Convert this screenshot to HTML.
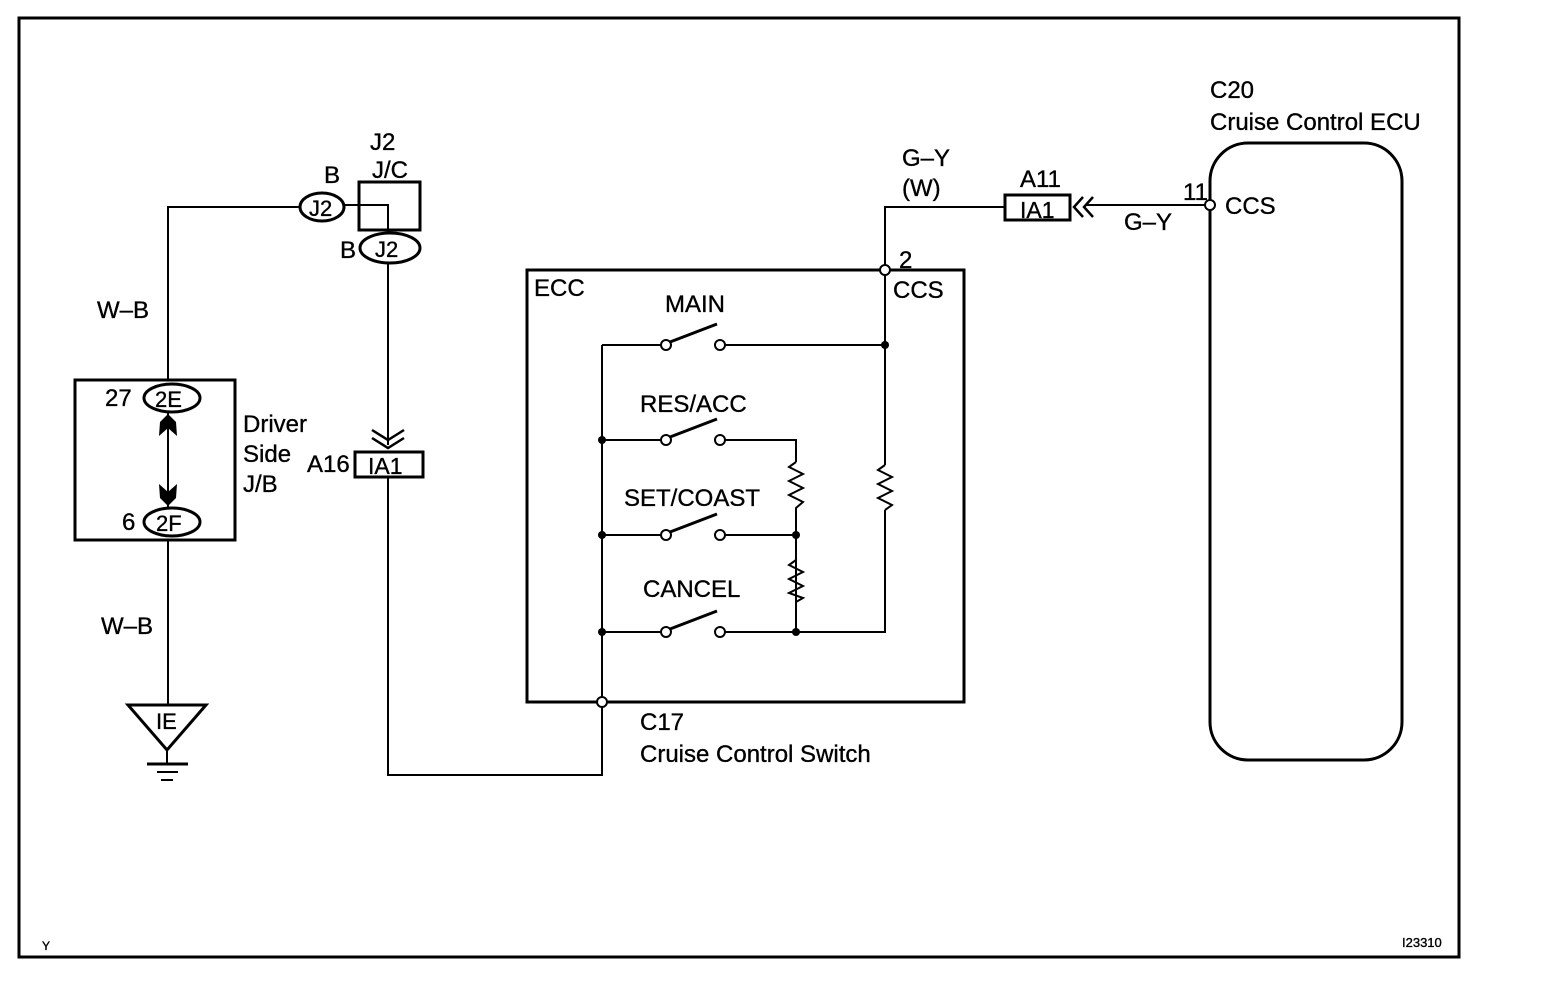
<!DOCTYPE html>
<html><head><meta charset="utf-8"><style>
html,body{margin:0;padding:0;background:#fff;}
svg{display:block;}
text{font-family:"Liberation Sans",Arial,sans-serif;fill:#000;stroke:#000;stroke-width:0.35;}
</style></head><body>
<svg width="1568" height="990" viewBox="0 0 1568 990" xmlns="http://www.w3.org/2000/svg">
<g fill="none" stroke="#000" stroke-width="2">
<rect x="19" y="18" width="1440" height="939" stroke-width="3"/>
<polyline points="168,380 168,207 300,207"/>
<ellipse cx="322" cy="207" rx="22" ry="14" stroke-width="3"/>
<rect x="359" y="182" width="61" height="48" stroke-width="3"/>
<polyline points="344,205 388,205 388,232"/>
<ellipse cx="390" cy="248" rx="30" ry="15" stroke-width="3"/>
<line x1="388" y1="263" x2="388" y2="445"/>
<polyline points="372,430 388,440 404,430" stroke-width="2.5"/>
<polyline points="372,438 388,448 404,438" stroke-width="2.5"/>
<rect x="355" y="452" width="68" height="25" stroke-width="3"/>
<polyline points="388,477 388,775 602,775 602,707"/>
<rect x="75" y="380" width="160" height="160" stroke-width="3"/>
<ellipse cx="172" cy="398" rx="28" ry="14" stroke-width="3"/>
<ellipse cx="172" cy="522" rx="28" ry="14" stroke-width="3"/>
<line x1="168" y1="412" x2="168" y2="508"/>
<line x1="168" y1="540" x2="168" y2="705"/>
<polygon points="128,705 206,705 167,750" stroke-width="3"/>
<line x1="167" y1="750" x2="167" y2="763"/>
<line x1="147" y1="764" x2="188" y2="764" stroke-width="3"/>
<line x1="157" y1="772" x2="178" y2="772"/>
<line x1="161" y1="780" x2="173" y2="780"/>
<rect x="527" y="270" width="437" height="432" stroke-width="3"/>
<polyline points="885,265 885,207 1005,207"/>
<line x1="885" y1="275" x2="885" y2="465"/>
<polyline points="885,465 878,470 892,477 878,484 892,491 878,498 892,505 885,510"/>
<polyline points="885,510 885,632 796,632"/>
<rect x="1005" y="195" width="65" height="25" stroke-width="3"/>
<polyline points="1083,197 1074,207 1083,217" stroke-width="2.5"/>
<polyline points="1093,197 1084,207 1093,217" stroke-width="2.5"/>
<line x1="1086" y1="205" x2="1205" y2="205"/>
<rect x="1210" y="143" width="192" height="617" rx="38" ry="38" stroke-width="3"/>
<line x1="602" y1="345" x2="602" y2="697"/>
<line x1="602" y1="345" x2="661" y2="345"/>
<line x1="725" y1="345" x2="885" y2="345"/>
<line x1="670" y1="342" x2="717" y2="324" stroke-width="3"/>
<line x1="602" y1="440" x2="661" y2="440"/>
<polyline points="725,440 796,440 796,462"/>
<line x1="670" y1="437" x2="717" y2="419" stroke-width="3"/>
<polyline points="796,462 789,467 803,474 789,481 803,488 789,495 803,502 796,508 796,632"/>
<line x1="602" y1="535" x2="661" y2="535"/>
<line x1="725" y1="535" x2="796" y2="535"/>
<line x1="670" y1="532" x2="717" y2="514" stroke-width="3"/>
<polyline points="796,560 789,565 803,572 789,579 803,586 789,593 803,598 796,602"/>
<line x1="602" y1="632" x2="661" y2="632"/>
<line x1="725" y1="632" x2="796" y2="632"/>
<line x1="670" y1="629" x2="717" y2="611" stroke-width="3"/>
</g>
<g fill="#fff" stroke="#000" stroke-width="2">
<circle cx="666" cy="345" r="5"/><circle cx="720" cy="345" r="5"/>
<circle cx="666" cy="440" r="5"/><circle cx="720" cy="440" r="5"/>
<circle cx="666" cy="535" r="5"/><circle cx="720" cy="535" r="5"/>
<circle cx="666" cy="632" r="5"/><circle cx="720" cy="632" r="5"/>
<circle cx="885" cy="270" r="5"/>
<circle cx="602" cy="702" r="5"/>
<circle cx="1210" cy="205" r="5"/>
</g>
<g fill="#000">
<circle cx="885" cy="345" r="4"/>
<circle cx="602" cy="440" r="4"/><circle cx="602" cy="535" r="4"/><circle cx="602" cy="632" r="4"/>
<circle cx="796" cy="535" r="4"/><circle cx="796" cy="632" r="4"/>
<path d="M159,436 L160,422 L168,414 L176,422 L177,436 L168,428 Z"/>
<path d="M159,484 L168,492 L177,484 L176,498 L168,506 L160,498 Z"/>
</g>
<g font-size="24">
<text x="370" y="150">J2</text>
<text x="372" y="178">J/C</text>
<text x="324" y="183">B</text>
<text x="309" y="216" font-size="22">J2</text>
<text x="340" y="258">B</text>
<text x="375" y="257" font-size="22">J2</text>
<text x="97" y="318">W–B</text>
<text x="105" y="406">27</text>
<text x="155" y="407" font-size="22">2E</text>
<text x="122" y="530">6</text>
<text x="156" y="531" font-size="22">2F</text>
<text x="243" y="432">Driver</text>
<text x="243" y="462">Side</text>
<text x="243" y="492">J/B</text>
<text x="307" y="472">A16</text>
<text x="368" y="474" font-size="23">IA1</text>
<text x="101" y="634">W–B</text>
<text x="156" y="729" font-size="22">IE</text>
<text x="534" y="296">ECC</text>
<text x="665" y="312">MAIN</text>
<text x="640" y="412">RES/ACC</text>
<text x="624" y="506">SET/COAST</text>
<text x="643" y="597">CANCEL</text>
<text x="899" y="268">2</text>
<text x="893" y="298">CCS</text>
<text x="640" y="730">C17</text>
<text x="640" y="762">Cruise Control Switch</text>
<text x="902" y="166">G–Y</text>
<text x="902" y="196">(W)</text>
<text x="1020" y="187">A11</text>
<text x="1020" y="218" font-size="23">IA1</text>
<text x="1124" y="230">G–Y</text>
<text x="1183" y="200">11</text>
<text x="1225" y="214">CCS</text>
<text x="1210" y="98">C20</text>
<text x="1210" y="130">Cruise Control ECU</text>
<text x="42" y="950" font-size="12" stroke-width="0">Y</text>
<text x="1402" y="947" font-size="13" stroke-width="0">I23310</text>
</g>
</svg>
</body></html>
